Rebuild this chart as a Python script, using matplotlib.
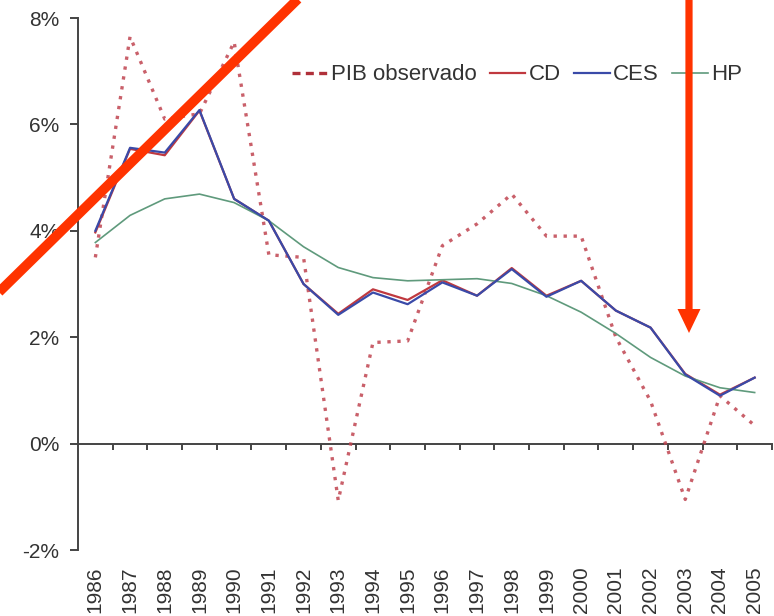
import matplotlib
matplotlib.use("Agg")
import matplotlib.pyplot as plt
from matplotlib.lines import Line2D
from matplotlib.patches import Polygon
from matplotlib import transforms
import matplotlib.ticker as mticker

plt.rcParams['font.family'] = ['Liberation Sans', 'DejaVu Sans']

years = ['1986', '1987', '1988', '1989', '1990', '1991', '1992', '1993', '1994', '1995',
         '1996', '1997', '1998', '1999', '2000', '2001', '2002', '2003', '2004', '2005']
pib = [3.5, 7.65, 6.1, 6.2, 7.55, 3.55, 3.5, -1.07, 1.9, 1.93,
       3.72, 4.13, 4.69, 3.9, 3.9, 2.0, 0.8, -1.05, 0.9, 0.34]
cd = [3.97, 5.54, 5.42, 6.26, 4.6, 4.19, 3.0, 2.44, 2.9, 2.7,
      3.07, 2.78, 3.3, 2.78, 3.06, 2.5, 2.18, 1.31, 0.92, 1.24]
ces = [4.0, 5.56, 5.47, 6.27, 4.6, 4.19, 3.0, 2.42, 2.84, 2.62,
       3.03, 2.78, 3.28, 2.76, 3.06, 2.5, 2.18, 1.3, 0.9, 1.24]
hp = [3.78, 4.29, 4.6, 4.69, 4.53, 4.19, 3.7, 3.31, 3.12, 3.06,
      3.08, 3.1, 3.01, 2.78, 2.47, 2.07, 1.62, 1.27, 1.05, 0.96]
yticks = [-2, 0, 2, 4, 6, 8]

W, H = 774, 616
fig = plt.figure(figsize=(W / 100, H / 100), dpi=100)
ax = fig.add_axes([78 / W, 1 - 550 / H, (772 - 78) / W, (550 - 18) / H])

x = list(range(len(years)))
txt = '#333333'
spc = '#444444'
pib_col = '#c04450'

ax.plot(x, pib, color=pib_col, lw=2.4, dashes=(1.0, 2.0), alpha=0.85,
        dash_capstyle='butt', zorder=3)
l_cd, = ax.plot(x, cd, color='#c0393f', lw=1.6, label='CD', zorder=4)
l_ces, = ax.plot(x, ces, color='#3a4aa8', lw=1.6, label='CES', zorder=5)
l_hp, = ax.plot(x, hp, color='#5f9a7c', lw=1.2, label='HP', zorder=4)
h_pib = Line2D([], [], color='#b0303a', lw=2.4, dashes=(2.4, 1.6),
               dash_capstyle='butt', label='PIB observado')

ax.set_xlim(-0.5, len(years) - 0.5)
ax.set_ylim(-2, 8)
ax.set_yticks(yticks)
ax.yaxis.set_major_formatter(mticker.FuncFormatter(lambda v, p: f"{v:.0f}%"))

for s in ['top', 'right']:
    ax.spines[s].set_visible(False)
ax.spines['bottom'].set_position(('data', 0))
ax.spines['bottom'].set_color(spc)
ax.spines['left'].set_color(spc)
ax.spines['bottom'].set_linewidth(1.4)
ax.spines['left'].set_linewidth(1.4)

ax.set_xticks([i + 0.5 for i in range(len(years))])
ax.set_xticklabels([])
ax.tick_params(axis='x', direction='out', length=4.5, width=1.4, color=spc)
ax.tick_params(axis='y', direction='out', length=5.5, width=1.4, color=spc,
               labelsize=15, labelcolor=txt, pad=8)

tb = transforms.blended_transform_factory(ax.transData, fig.transFigure)
for i, yr in enumerate(years):
    ax.text(i, 1 - 613 / H, yr, transform=tb, rotation=90, ha='center', va='bottom',
            fontsize=15, color=txt)

fig.legend(handles=[h_pib, l_cd, l_ces, l_hp], loc='center',
           bbox_to_anchor=(517 / W, 1 - 75 / H), ncol=4, frameon=False,
           fontsize=16, handlelength=1.6, handletextpad=0.15, columnspacing=0.6,
           labelcolor=txt)

# red-orange overlay annotations (pixel coordinates of the figure)
px = transforms.Affine2D().scale(1 / W, -1 / H).translate(0, 1) + fig.transFigure
orange = '#ff3300'
fig.add_artist(Line2D([-5, 302], [296, -5], transform=px, color=orange, lw=7,
                      solid_capstyle='butt', zorder=10))
ax_x, sw, hw = 689, 3.6, 11.5
fig.add_artist(Polygon([[ax_x - sw, -2], [ax_x + sw, -2], [ax_x + sw, 309],
                        [ax_x + hw, 309], [ax_x, 333], [ax_x - hw, 309],
                        [ax_x - sw, 309]], closed=True, transform=px,
                       facecolor=orange, edgecolor='none', zorder=10))

fig.savefig('out.png', dpi=100)
